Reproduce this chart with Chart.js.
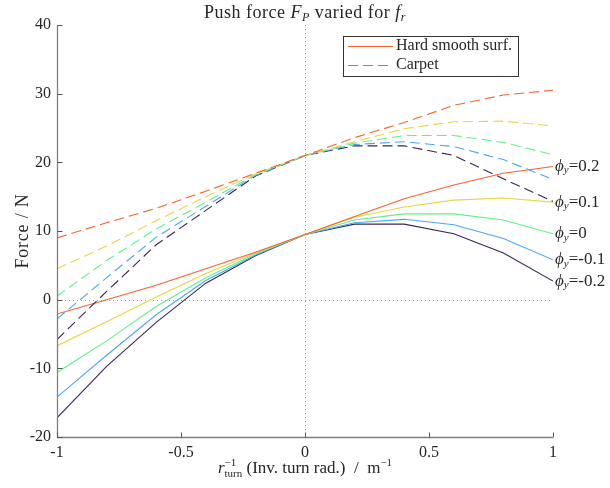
<!DOCTYPE html>
<html>
<head>
<meta charset="utf-8">
<script src="https://cdn.jsdelivr.net/npm/chart.js@4.4.1/dist/chart.umd.min.js"></script>
<style>
html,body{margin:0;padding:0;background:#fff;}
#wrap{width:610px;height:488px;}
</style>
</head>
<body>
<div id="wrap"><canvas id="c" width="610" height="488"></canvas></div>
<script>
// ---- data ----
const turnInv = [-1, -0.8, -0.6, -0.4, -0.2, 0, 0.2, 0.4, 0.6, 0.8, 1];
const phiLabels = ['0.2', '0.1', '0', '-0.1', '-0.2'];
const seriesColors = ['#f4632c', '#e6d641', '#5ff08c', '#4ca6f8', '#3d2652'];

const hardPhi02  = [-2.1, 0.0, 2.1, 4.5, 6.9, 9.5, 12.1, 14.7, 16.7, 18.4, 19.4];
const hardPhi01  = [-6.7, -3.2, 0.4, 3.8, 6.8, 9.5, 12.0, 13.5, 14.5, 14.8, 14.2];
const hardPhi0   = [-10.6, -6.0, -1.0, 3.2, 6.7, 9.5, 11.6, 12.5, 12.5, 11.6, 9.6];
const hardPhiM01 = [-14.2, -8.1, -2.2, 2.8, 6.5, 9.5, 11.2, 11.7, 10.9, 8.9, 5.8];
const hardPhiM02 = [-17.2, -9.7, -3.3, 2.4, 6.4, 9.5, 11.0, 11.0, 9.6, 6.8, 2.7];

const carpetPhi02  = [9.0, 11.2, 13.3, 15.8, 18.4, 21.0, 23.6, 25.8, 28.3, 29.8, 30.5];
const carpetPhi01  = [4.5, 7.8, 11.5, 15.0, 18.3, 21.0, 23.0, 24.9, 25.9, 26.0, 25.3];
const carpetPhi0   = [0.5, 5.7, 10.3, 14.2, 18.2, 21.0, 22.8, 23.9, 23.9, 22.9, 21.1];
const carpetPhiM01 = [-2.8, 3.2, 9.1, 13.6, 18.1, 21.0, 22.6, 23.0, 22.3, 20.4, 17.5];
const carpetPhiM02 = [-5.8, 1.2, 8.0, 13.0, 18.0, 21.0, 22.4, 22.4, 21.0, 17.6, 14.3];

const xTicks = [-1, -0.5, 0, 0.5, 1];
const yTicks = [-20, -10, 0, 10, 20, 30, 40];

const hardSeries = [hardPhi02, hardPhi01, hardPhi0, hardPhiM01, hardPhiM02];
const carpetSeries = [carpetPhi02, carpetPhi01, carpetPhi0, carpetPhiM01, carpetPhiM02];

// ---- build datasets ----
const toPts = arr => arr.map((v, i) => ({x: turnInv[i], y: v}));
const datasets = [];
carpetSeries.forEach((s, i) => datasets.push({
  label: 'Carpet ' + phiLabels[i], data: toPts(s), borderColor: seriesColors[i],
  borderWidth: 1.1, borderDash: [10, 5], pointRadius: 0, tension: 0, fill: false, kind: 'carpet'
}));
hardSeries.forEach((s, i) => datasets.push({
  label: 'Hard ' + phiLabels[i], data: toPts(s), borderColor: seriesColors[i],
  borderWidth: 1.1, pointRadius: 0, tension: 0, fill: false, kind: 'hard', phi: phiLabels[i]
}));

const SERIF = '"Liberation Serif", "DejaVu Serif", serif';
const TXT = '#262626';

function font(size, italic) { return (italic ? 'italic ' : '') + size + 'px ' + SERIF; }

function richWidth(ctx, parts) {
  let w = 0;
  parts.forEach(p => {
    if (p.sup !== undefined) {
      ctx.font = font(p.size, false);
      w += Math.max(ctx.measureText(p.sup).width, ctx.measureText(p.sub).width);
    } else { ctx.font = font(p.size, p.it); w += ctx.measureText(p.t).width; }
  });
  return w;
}
function drawRich(ctx, parts, x, y, align, ls) {
  ctx.letterSpacing = (ls || 0) + 'px';
  const w = richWidth(ctx, parts);
  let cx = align === 'center' ? x - w / 2 : (align === 'right' ? x - w : x);
  ctx.textAlign = 'left';
  parts.forEach(p => {
    if (p.sup !== undefined) {
      ctx.font = font(p.size, false);
      ctx.fillText(p.sup, cx, y + p.supDy);
      ctx.fillText(p.sub, cx, y + p.subDy);
      cx += Math.max(ctx.measureText(p.sup).width, ctx.measureText(p.sub).width);
    } else {
      ctx.font = font(p.size, p.it);
      ctx.fillText(p.t, cx, y + (p.dy || 0));
      cx += ctx.measureText(p.t).width;
    }
  });
  ctx.letterSpacing = '0px';
}

const decor = {
  id: 'decor',
  beforeDatasetsDraw(chart) {
    const ctx = chart.ctx, xs = chart.scales.x, ys = chart.scales.y, a = chart.chartArea;
    ctx.save();
    ctx.strokeStyle = '#9a9a9a'; ctx.lineWidth = 1; ctx.setLineDash([1, 3]);
    const x0 = Math.round(xs.getPixelForValue(0)) + 0.5;
    ctx.beginPath(); ctx.moveTo(x0, a.top); ctx.lineTo(x0, a.bottom); ctx.stroke();
    const y0 = Math.round(ys.getPixelForValue(0)) + 0.5;
    ctx.beginPath(); ctx.moveTo(a.left, y0); ctx.lineTo(a.right, y0); ctx.stroke();
    ctx.restore();
  },
  afterDraw(chart) {
    const ctx = chart.ctx, xs = chart.scales.x, ys = chart.scales.y, a = chart.chartArea;
    ctx.save();
    ctx.setLineDash([]);
    ctx.strokeStyle = '#808080'; ctx.lineWidth = 1.3;
    const L = Math.round(a.left) + 0.5, B = Math.round(a.bottom) + 0.5;
    ctx.beginPath(); ctx.moveTo(L, a.top); ctx.lineTo(L, B); ctx.lineTo(a.right, B); ctx.stroke();
    ctx.strokeStyle = '#555'; ctx.lineWidth = 1;
    xTicks.forEach(v => { const px = Math.round(xs.getPixelForValue(v)) + 0.5;
      ctx.beginPath(); ctx.moveTo(px, B); ctx.lineTo(px, B - 5); ctx.stroke(); });
    yTicks.forEach(v => { const py = Math.round(ys.getPixelForValue(v)) + 0.5;
      ctx.beginPath(); ctx.moveTo(L, py); ctx.lineTo(L + 5, py); ctx.stroke(); });

    ctx.fillStyle = TXT; ctx.textBaseline = 'alphabetic';
    // title
    drawRich(ctx, [
      {t: 'Push force ', size: 18}, {t: 'F', size: 18, it: true}, {t: 'P', size: 12, it: true, dy: 3},
      {t: ' varied for ', size: 18}, {t: 'f', size: 18, it: true}, {t: 'r', size: 12, it: true, dy: 3}
    ], (a.left + a.right) / 2, 18, 'center', 0.5);
    // x title
    drawRich(ctx, [
      {t: 'r', size: 17, it: true}, {sup: '\u22121', sub: 'turn', size: 11, supDy: -7, subDy: 4},
      {t: ' (Inv. turn rad.)  /  m', size: 17}, {t: '\u22121', size: 11, dy: -7}
    ], (a.left + a.right) / 2, 473, 'center', 0);
    // y title
    ctx.save(); ctx.translate(23, (a.top + a.bottom) / 2); ctx.rotate(-Math.PI / 2);
    ctx.textBaseline = 'middle';
    drawRich(ctx, [{t: 'Force / N', size: 18}], 0, 0, 'center', 0.8);
    ctx.restore();

    // line-end labels
    ctx.textBaseline = 'middle';
    chart.data.datasets.forEach(ds => {
      if (ds.kind !== 'hard') return;
      const last = ds.data[ds.data.length - 1];
      const px = xs.getPixelForValue(last.x) + 2, py = ys.getPixelForValue(last.y);
      drawRich(ctx, [{t: '\u03D5', size: 17, it: true}, {t: 'y', size: 11, it: true, dy: 4}, {t: '=' + ds.phi, size: 17}], px, py, 'left', 0);
    });

    // legend
    ctx.textBaseline = 'middle';
    ctx.fillStyle = '#fff'; ctx.fillRect(343.5, 36.5, 175, 40);
    ctx.strokeStyle = '#333'; ctx.lineWidth = 1; ctx.strokeRect(343.5, 36.5, 175, 40);
    ctx.strokeStyle = seriesColors[0]; ctx.lineWidth = 1.1;
    ctx.beginPath(); ctx.moveTo(348, 46.5); ctx.lineTo(393, 46.5); ctx.stroke();
    ctx.setLineDash([10, 5]);
    ctx.beginPath(); ctx.moveTo(348, 65.5); ctx.lineTo(393, 65.5); ctx.stroke();
    ctx.setLineDash([]);
    ctx.fillStyle = TXT;
    drawRich(ctx, [{t: 'Hard smooth surf.', size: 16}], 396, 46, 'left', 0);
    drawRich(ctx, [{t: 'Carpet', size: 16}], 396, 65, 'left', 0);
    ctx.restore();
  }
};

new Chart(document.getElementById('c'), {
  type: 'line',
  data: {datasets},
  options: {
    responsive: false, animation: false, devicePixelRatio: 1,
    layout: {padding: {top: 25, right: 57, left: 0, bottom: 0}},
    plugins: {legend: {display: false}, tooltip: {enabled: false}, title: {display: false}},
    scales: {
      x: {
        type: 'linear', min: -1, max: 1,
        afterFit: s => { s.height = 51; },
        afterBuildTicks: s => { s.ticks = xTicks.map(v => ({value: v})); },
        grid: {display: false, drawTicks: false}, border: {display: false},
        ticks: {padding: 6, color: TXT, font: {family: SERIF, size: 16}, maxRotation: 0, autoSkip: false,
                callback: v => String(v)}
      },
      y: {
        type: 'linear', min: -20, max: 40,
        afterFit: s => { s.width = 57; },
        afterBuildTicks: s => { s.ticks = yTicks.map(v => ({value: v})); },
        grid: {display: false, drawTicks: false}, border: {display: false},
        ticks: {padding: 6, color: TXT, font: {family: SERIF, size: 16}, callback: v => String(v)}
      }
    }
  },
  plugins: [decor]
});
</script>
</body>
</html>
